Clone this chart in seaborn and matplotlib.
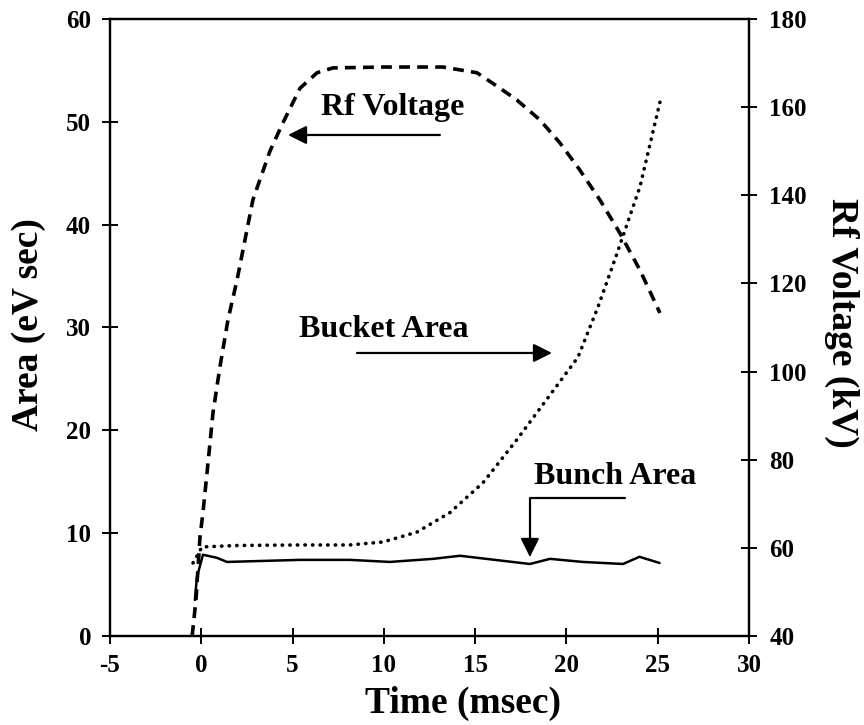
import numpy as np
import pandas as pd
import matplotlib
matplotlib.use("Agg")
import matplotlib.pyplot as plt
import seaborn as sns

# ---- data ----
time_rf = [-0.5, -0.29, -0.07, 0.09, 0.37, 0.64, 1.02, 1.46, 1.96, 2.5, 2.83, 3.21,
           3.76, 4.42, 5.41, 6.34, 7.21, 10.0, 13.24, 15.1, 16.36, 17.29, 18.55,
           19.64, 20.74, 21.84, 22.93, 24.03, 25.12]
rf_voltage = [40, 48.2, 62.5, 67.9, 79.3, 90.6, 101, 111.7, 120.8, 132.1, 139, 143.5,
              150, 156, 164.3, 167.8, 168.9, 169.1, 169.1, 167.8, 164.3, 161.6, 157.1,
              151.9, 145.7, 138.9, 131.4, 123, 113.3]

time_bucket = [-0.45, 0.04, 2.0, 5.4, 8.14, 9.95, 11.81, 13.62, 15.43, 17.29,
               20.63, 21.73, 22.77, 24.03, 25.12]
bucket_area = [7.1, 8.66, 8.8, 8.85, 8.85, 9.14, 10.1, 12.0, 14.9, 19.1,
               27.1, 32.0, 37.2, 43.7, 51.9]

time_bunch = [-0.35, -0.24, 0.09, 0.86, 1.41, 5.4, 8.14, 10.33, 12.7, 14.17,
              18.0, 19.1, 20.9, 23.1, 24.0, 25.1]
bunch_area = [3.5, 5.7, 7.9, 7.6, 7.2, 7.4, 7.4, 7.2, 7.5, 7.8,
              7.0, 7.5, 7.2, 7.0, 7.7, 7.1]

x_ticks = [-5, 0, 5, 10, 15, 20, 25, 30]
left_ticks = [0, 10, 20, 30, 40, 50, 60]
right_ticks = [40, 60, 80, 100, 120, 140, 160, 180]

# ---- style ----
sns.set_theme(style="white")
plt.rcParams["font.family"] = ["Liberation Serif", "DejaVu Serif"]
plt.rcParams["font.weight"] = "bold"
plt.rcParams["axes.labelweight"] = "bold"
plt.rcParams["text.color"] = "black"
plt.rcParams["axes.labelcolor"] = "black"
plt.rcParams["xtick.color"] = "black"
plt.rcParams["ytick.color"] = "black"
plt.rcParams["axes.unicode_minus"] = False

fig = plt.figure(figsize=(8.64, 7.25), dpi=100)
ax = fig.add_axes([0.1273, 0.1228, 0.7396, 0.851])
ax2 = ax.twinx()

df_rf = pd.DataFrame({"t": time_rf, "v": rf_voltage})
df_bucket = pd.DataFrame({"t": time_bucket, "a": bucket_area})
df_bunch = pd.DataFrame({"t": time_bunch, "a": bunch_area})

sns.lineplot(data=df_bucket, x="t", y="a", ax=ax, color="black", lw=2.6,
             linestyle=(0, (0.1, 2.0)), dash_capstyle="round", estimator=None, sort=False)
sns.lineplot(data=df_bunch, x="t", y="a", ax=ax, color="black", lw=1.8,
             estimator=None, sort=False)
sns.lineplot(data=df_rf, x="t", y="v", ax=ax2, color="black", lw=2.6,
             linestyle=(0, (3.0, 2.0)), estimator=None, sort=False)

ax.set_xlim(-5, 30)
ax.set_ylim(0, 60)
ax2.set_ylim(40, 180)
ax.set_xticks(x_ticks)
ax.set_yticks(left_ticks)
ax2.set_yticks(right_ticks)

for a in (ax, ax2):
    for s in a.spines.values():
        s.set_linewidth(1.6)
        s.set_color("black")

tfs = 18
ax.tick_params(axis="x", direction="inout", length=12, width=1.4, pad=7,
               labelsize=tfs, bottom=True, top=False, colors="black")
ax.tick_params(axis="y", direction="inout", length=11, width=1.4, pad=8,
               labelsize=tfs, left=True, right=False, colors="black")
ax2.tick_params(axis="y", direction="inout", length=11, width=1.4, pad=9,
                labelsize=tfs, right=True, left=False, colors="black")
for lab in ax.get_xticklabels() + ax.get_yticklabels() + ax2.get_yticklabels():
    lab.set_fontweight("bold")

ax.set_xlabel("Time (msec)", fontsize=27, fontweight="bold")
ax.xaxis.set_label_coords(0.552, -0.081)
ax.set_ylabel("Area (eV sec)", fontsize=27, fontweight="bold")
ax.yaxis.set_label_coords(-0.1, 0.505)
ax2.set_ylabel("Rf Voltage (kV)", fontsize=27, fontweight="bold", rotation=270, va="bottom")
ax2.yaxis.set_label_coords(1.118, 0.507)

# ---- annotations ----
afs = 23
ax.text(10.5, 51.35, "Rf Voltage", ha="center", va="center", fontsize=afs, fontweight="bold")
ax.annotate("", xy=(4.75, 48.72), xytext=(13.07, 48.72),
            arrowprops=dict(arrowstyle="-|>", color="black", lw=1.6,
                            mutation_scale=28, shrinkA=0, shrinkB=0))
ax.text(10.0, 29.85, "Bucket Area", ha="center", va="center", fontsize=afs, fontweight="bold")
ax.annotate("", xy=(19.21, 27.52), xytext=(8.53, 27.52),
            arrowprops=dict(arrowstyle="-|>", color="black", lw=1.6,
                            mutation_scale=28, shrinkA=0, shrinkB=0))
ax.text(22.66, 15.46, "Bunch Area", ha="center", va="center", fontsize=afs, fontweight="bold")
ax.annotate("", xy=(18.0, 7.68), xytext=(23.21, 13.42),
            arrowprops=dict(arrowstyle="-|>", color="black", lw=1.6,
                            mutation_scale=28, shrinkA=0, shrinkB=0,
                            connectionstyle="angle,angleA=180,angleB=90,rad=0"))

fig.savefig("out.png", dpi=100)
